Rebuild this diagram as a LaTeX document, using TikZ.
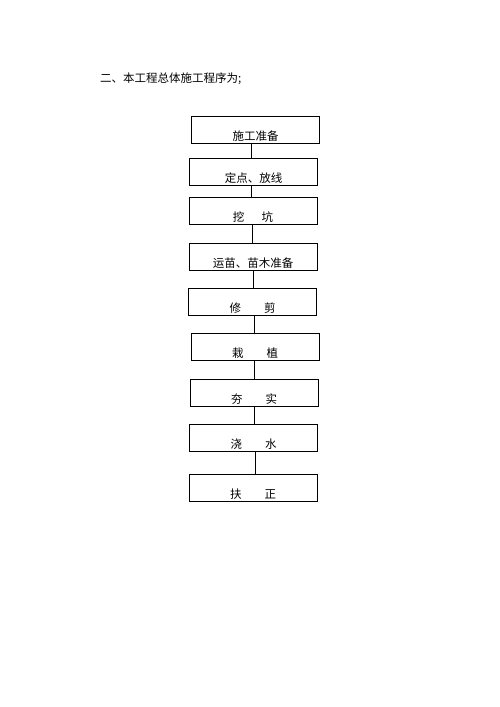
\documentclass[tikz,border=0pt]{standalone}
\usepackage{fontspec}
\newfontfamily\cjk{Noto Sans CJK SC}
\usetikzlibrary{positioning}
\tikzset{
  stepbox/.style={
    draw,
    rectangle,
    line width=0.7pt,
    minimum width=128pt,
    inner xsep=0pt,
    inner ysep=0pt,
    text height=24.2pt,
    text depth=2.7pt,
    align=center,
    font=\cjk\fontsize{11.5}{14}\selectfont
  },
  title/.style={
    anchor=west,
    inner sep=0pt,
    font=\cjk\fontsize{11.5}{14}\selectfont
  },
  line/.style={line width=0.7pt}
}
\begin{document}
\begin{tikzpicture}[x=1pt,y=-1pt]
\useasboundingbox (0,0) rectangle (500,707);

\node[title] (heading) at (100,78.5) {二、本工程总体施工程序为;};

% steps
\node[stepbox, anchor=north] (prep) at (255.5,116) {施工准备};
\node[stepbox, below=14pt of prep, xshift=-2pt] (stake) {定点、放线};
\node[stepbox, below=12pt of stake, xshift=-0.5pt] (pit) {挖\hspace{1.5em}坑};
\node[stepbox, below=18pt of pit] (seedling) {运苗、苗木准备};
\node[stepbox, below=18pt of seedling, xshift=-0.5pt] (prune) {修\hspace{2em}剪};
\node[stepbox, below=17pt of prune, xshift=2.5pt] (plant) {栽\hspace{2em}植};
\node[stepbox, below=18pt of plant, xshift=-1pt] (tamp) {夯\hspace{2em}实};
\node[stepbox, below=18pt of tamp, xshift=-0.5pt] (water) {浇\hspace{2em}水};
\node[stepbox, below=22pt of water, xshift=-0.5pt] (upright) {扶\hspace{2em}正};

% links
\draw[line] ([xshift=-4.5pt]prep.south) -- ([xshift=-4.5pt]prep.south |- stake.north);
\draw[line] ([xshift=-2.5pt]stake.south) -- ([xshift=-2.5pt]stake.south |- pit.north);
\draw[line] ([xshift=-1pt]pit.south) -- ([xshift=-1pt]pit.south |- seedling.north);
\draw[line] (seedling.south) -- (seedling.south |- prune.north);
\draw[line] ([xshift=1.5pt]prune.south) -- ([xshift=1.5pt]prune.south |- plant.north);
\draw[line] ([xshift=-1pt]plant.south) -- ([xshift=-1pt]plant.south |- tamp.north);
\draw[line] (tamp.south) -- (tamp.south |- water.north);
\draw[line] ([xshift=1.5pt]water.south) -- ([xshift=1.5pt]water.south |- upright.north);

\end{tikzpicture}
\end{document}
